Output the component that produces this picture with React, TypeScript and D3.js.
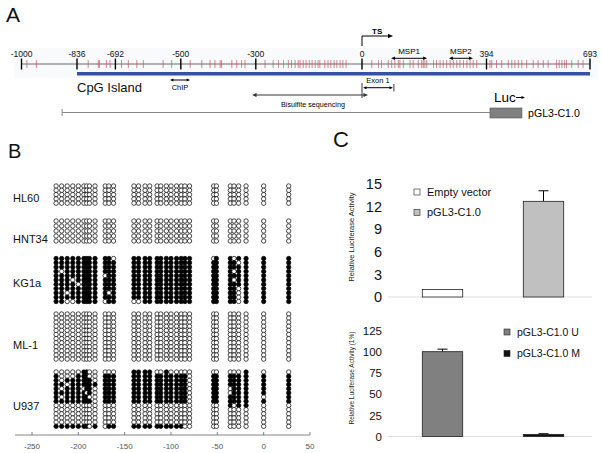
import React from 'react';
import * as d3 from 'd3';

const W = 602;
const H = 453;
const FONT = 'Arial, "Liberation Sans", Helvetica, sans-serif';

// ---------- Panel A: promoter map ----------
const rulerTicks = [-1000, -836, -692, -500, -300, 0, 394, 693];
const rulerLabels = ['-1000', '-836', '-692', '-500', '-300', '0', '394', '693'];
// CpG dinucleotides along the region (bp, estimated from the map)
const cpgSitesA = [
  -984, -956, -794, -756, -752, -725, -712, -674, -654, -629, -610, -552, -527,
  -475, -444, -422, -409, -395, -391, -364, -351, -338, -329,
  -274, -251, -236, -222, -208, -199, -189, -180,
  -175, -166, -158, -149, -141, -132, -124, -119,
  -105, -96, -88, -79, -71, -62, -54, -45,
  31, 52, 62, 83, 94, 104, 115, 120, 131, 152, 162, 178, 189, 194, 199, 205,
  226, 236, 247, 257, 268, 279, 289, 300, 310, 321, 332, 342, 352, 363,
  404, 409, 423, 438, 457, 467, 476, 486, 496, 510, 529, 543, 558, 572,
  596, 604, 612, 620, 625, 640, 659, 673,
];
const cpgIsland = [-836, 693];
const chipRegion = [-532, -475];
const bisulfiteRegion = [-310, 19];
const exon1Region = [0, 101];
const msp1Region = [92, 206];
const msp2Region = [275, 351];
const constructRegion = [-880, 404];

// ---------- Panel B: bisulfite sequencing ----------
const cpgSitesB = [
  -224, -218, -212, -206, -200, -194, -191, -188, -182, -171, -167, -162,
  -140, -135, -128, -123, -115, -111, -105, -100, -94, -89, -85, -80,
  -54, -51, -36, -32, -27, -19, 0, 27,
];
const cellLines = ['HL60', 'HNT34', 'KG1a', 'ML-1', 'U937'];
const zeros = '0'.repeat(32);
const hl60 = [zeros, zeros, zeros, zeros, zeros];
const hnt34 = [zeros, zeros, zeros, zeros, zeros];
const kg1a = [
  '111111111110' + '111111111111' + '01101111',
  '111111111111' + '111111111111' + '11110111',
  '111111111111' + '111111111111' + '11111111',
  '101111111111' + '111111111111' + '11101111',
  '111111111011' + '111111111111' + '11111111',
  '111011111111' + '111111111111' + '11101111',
  '111101111111' + '111111111111' + '11111111',
  '111111111111' + '111111111111' + '11110111',
  '110111111101' + '111111111111' + '11110111',
  '111111111111' + '111111111111' + '11110111',
  '110011111011' + '001111111111' + '11110111',
];
const ml1 = Array(12).fill(zeros);
const u937 = [
  '000001100000' + '111100100000' + '00000100',
  '100011100111' + '111111111110' + '11111111',
  '101111110111' + '111111111110' + '11111111',
  '110111111111' + '111111111110' + '11111111',
  '101110110111' + '111111111110' + '11011111',
  '111111010111' + '111111111110' + '11011111',
  '101111100111' + '111111111110' + '11111101',
  '111111110111' + '111111111110' + '11111111',
  '000000000000' + '000000000000' + '00101100',
  zeros, zeros, zeros, zeros,
  '111111101011' + '111111111100' + '00000000',
];
const methylation = [hl60, hnt34, kg1a, ml1, u937];
const bTicks = [-250, -200, -150, -100, -50, 0, 50];

// ---------- Panel C: luciferase ----------
const luc1Cats = ['Empty vector', 'pGL3-C1.0'];
const luc1Vals = [1.0, 12.7];
const luc1Err = [0, 1.4];
const luc1Ticks = [0, 3, 6, 9, 12, 15];
const luc2Cats = ['pGL3-C1.0 U', 'pGL3-C1.0 M'];
const luc2Vals = [100.5, 2.5];
const luc2Err = [3, 0.8];
const luc2Ticks = [0, 25, 50, 75, 100, 125];

// layout
const rulerPx = [21.5, 77, 115.4, 180.8, 255.8, 362, 486.5, 590];
const groupLayout = [
  { y0: 186, dy: 4.3, label: 202 },
  { y0: 221, dy: 5, label: 243 },
  { y0: 258.5, dy: 4.3, label: 287 },
  { y0: 314, dy: 4.1, label: 349 },
  { y0: 372, dy: 4.18, label: 410 },
];

const head = (x: number, y: number, dir: number, s = 4) =>
  `M${x},${y}L${x - dir * s},${y - s * 0.45}L${x - dir * s},${y + s * 0.45}Z`;

const DoubleArrow = ({ x1, x2, y, color = '#000', s = 4 }: any) => (
  <g>
    <line x1={x1 + 2} x2={x2 - 2} y1={y} y2={y} stroke={color} strokeWidth={1} />
    <path d={head(x1, y, -1, s)} fill={color} />
    <path d={head(x2, y, 1, s)} fill={color} />
  </g>
);

const PanelA = () => {
  const sx = d3.scaleLinear().domain(rulerTicks).range(rulerPx);
  const lineY = 64;
  return (
    <g>
      <text x={6} y={22} fontSize={21} fill="#111">A</text>
      <rect x={14} y={48} width={584} height={30} fill="#eef2f7" opacity={0.4} />
      <line x1={sx(-1000)} x2={sx(693)} y1={lineY} y2={lineY} stroke="#444" strokeWidth={0.8} />
      {cpgSitesA.map((c, i) => (
        <line key={i} x1={sx(c)} x2={sx(c)} y1={lineY - 4} y2={lineY + 4}
          stroke="#c4505c" strokeWidth={0.8} opacity={0.85} />
      ))}
      {rulerTicks.map((t, i) => (
        <g key={t}>
          <line x1={sx(t)} x2={sx(t)} y1={lineY - 5.5} y2={lineY + 5.5} stroke="#000" strokeWidth={1.4} />
          <text x={sx(t)} y={56.5} fontSize={8.5} textAnchor="middle" fill="#111">{rulerLabels[i]}</text>
        </g>
      ))}
      <rect x={sx(cpgIsland[0])} y={72} width={sx(cpgIsland[1]) - sx(cpgIsland[0])} height={3.5} fill="#3550a5" />
      <text x={sx(cpgIsland[0])} y={92} fontSize={13} fill="#111">CpG Island</text>

      <DoubleArrow x1={sx(chipRegion[0])} x2={sx(chipRegion[1])} y={80} s={3.5} />
      <text x={(sx(chipRegion[0]) + sx(chipRegion[1])) / 2} y={90} fontSize={7.5} textAnchor="middle">ChIP</text>

      {/* TS */}
      <path d={`M${sx(0)},46V36H${sx(0) + 27}`} fill="none" stroke="#000" strokeWidth={1} />
      <path d={head(sx(0) + 31, 36, 1, 5)} fill="#000" />
      <text x={sx(0) + 10} y={33.5} fontSize={8} fontWeight="bold">TS</text>

      <DoubleArrow x1={sx(msp1Region[0])} x2={sx(msp1Region[1])} y={58.3} s={4} />
      <text x={(sx(msp1Region[0]) + sx(msp1Region[1])) / 2} y={54.3} fontSize={8} textAnchor="middle">MSP1</text>
      <DoubleArrow x1={sx(msp2Region[0])} x2={sx(msp2Region[1])} y={58.3} s={4} />
      <text x={(sx(msp2Region[0]) + sx(msp2Region[1])) / 2} y={54.3} fontSize={8} textAnchor="middle">MSP2</text>

      {/* Exon 1 */}
      <line x1={sx(exon1Region[0])} x2={sx(exon1Region[0])} y1={83} y2={98} stroke="#000" strokeWidth={0.8} />
      <line x1={sx(exon1Region[1])} x2={sx(exon1Region[1])} y1={84} y2={91.5} stroke="#000" strokeWidth={0.8} />
      <DoubleArrow x1={sx(exon1Region[0]) + 1} x2={sx(exon1Region[1]) - 1} y={87.7} s={3.5} />
      <text x={(sx(exon1Region[0]) + sx(exon1Region[1])) / 2} y={83} fontSize={7.5} textAnchor="middle">Exon 1</text>

      {/* Bisulfite */}
      <DoubleArrow x1={sx(bisulfiteRegion[0])} x2={sx(bisulfiteRegion[1])} y={95} color="#333" s={4.5} />
      <text x={313} y={107} fontSize={7.2} textAnchor="middle">Bisulfite sequencing</text>

      {/* Construct */}
      <line x1={sx(constructRegion[0])} x2={sx(constructRegion[1])} y1={112.5} y2={112.5} stroke="#888" strokeWidth={1} />
      <line x1={sx(constructRegion[0])} x2={sx(constructRegion[0])} y1={109} y2={116} stroke="#888" strokeWidth={1} />
      <rect x={sx(constructRegion[1])} y={108} width={32} height={10} fill="#808080" stroke="#555" strokeWidth={0.6} />
      <text x={494} y={102} fontSize={13.5}>Luc</text>
      <line x1={516} x2={522} y1={97.5} y2={97.5} stroke="#000" strokeWidth={1} />
      <path d={head(525, 97.5, 1, 3.5)} fill="#000" />
      <text x={528} y={116.5} fontSize={10.6}>pGL3-C1.0</text>
    </g>
  );
};

const PanelB = () => {
  const sx = d3.scaleLinear().domain([-250, 50]).range([32, 310]);
  const axisY = 435;
  return (
    <g>
      <text x={8} y={158} fontSize={20} fill="#111">B</text>
      {cellLines.map((name, gi) => {
        const L = groupLayout[gi];
        return (
          <g key={name}>
            <text x={13} y={L.label} fontSize={11} fill="#111">{name}</text>
            {methylation[gi].map((row, ri) =>
              cpgSitesB.map((c, ci) => (
                <circle key={`${ri}-${ci}`} cx={sx(c)} cy={L.y0 + ri * L.dy} r={2.2}
                  fill={row[ci] === '1' ? '#000' : '#fff'} stroke="#000" strokeWidth={0.7} />
              ))
            )}
          </g>
        );
      })}
      <line x1={15} x2={sx(50)} y1={axisY} y2={axisY} stroke="#666" strokeWidth={0.8} />
      {bTicks.map((t) => (
        <g key={t}>
          <line x1={sx(t)} x2={sx(t)} y1={axisY - 3} y2={axisY} stroke="#666" strokeWidth={0.8} />
          <text x={sx(t)} y={449} fontSize={8} textAnchor="middle" fill="#555">{t}</text>
        </g>
      ))}
    </g>
  );
};

const BarChart = ({ cats, vals, errs, ticks, yRange, fills, tickFont, yLabel, yLabelY, yLabelFont, legendY, legendX, legendFont }: any) => {
  const x = d3.scaleBand().domain(cats).range([392, 594]).paddingInner(0.6).paddingOuter(0.3);
  const y = d3.scaleLinear().domain([ticks[0], ticks[ticks.length - 1]]).range(yRange);
  return (
    <g>
      <line x1={388} x2={592} y1={y(0)} y2={y(0)} stroke="#ddd" strokeWidth={1} />
      {ticks.map((t: number) => (
        <text key={t} x={382} y={y(t) + tickFont * 0.36} fontSize={tickFont} textAnchor="end" fill="#111">{t}</text>
      ))}
      <text transform={`translate(354,${yLabelY}) rotate(-90)`} fontSize={yLabelFont} textAnchor="middle" fill="#222">{yLabel}</text>
      {cats.map((c: string, i: number) => {
        const bx = x(c) as number;
        const cx = bx + x.bandwidth() / 2;
        return (
          <g key={c}>
            {errs[i] > 0 && (
              <g stroke="#000" strokeWidth={1}>
                <line x1={cx} x2={cx} y1={y(vals[i])} y2={y(vals[i] + errs[i])} />
                <line x1={cx - 5} x2={cx + 5} y1={y(vals[i] + errs[i])} y2={y(vals[i] + errs[i])} />
              </g>
            )}
            <rect x={bx} y={y(vals[i])} width={x.bandwidth()} height={y(0) - y(vals[i])}
              fill={fills[i]} stroke="#222" strokeWidth={0.8} />
            <rect x={legendX} y={legendY[i] - 3} width={6} height={6} fill={fills[i]} stroke="#222" strokeWidth={0.6} />
            <text x={legendX + 13} y={legendY[i] + legendFont * 0.36} fontSize={legendFont} fill="#111">{c}</text>
          </g>
        );
      })}
    </g>
  );
};

const PanelC = () => (
  <g>
    <text x={333} y={147} fontSize={22} fill="#111">C</text>
    <BarChart cats={luc1Cats} vals={luc1Vals} errs={luc1Err} ticks={luc1Ticks} yRange={[297, 184]}
      fills={['#fff', '#c0c0c0']} tickFont={14.5} yLabel="Relative Luciferase Activity" yLabelY={237}
      yLabelFont={7.5} legendY={[192, 212.5]} legendX={414} legendFont={11} />
    <BarChart cats={luc2Cats} vals={luc2Vals} errs={luc2Err} ticks={luc2Ticks} yRange={[436.5, 331]}
      fills={['#808080', '#111']} tickFont={11.5} yLabel="Relative Luciferase Activity (1%)" yLabelY={378}
      yLabelFont={6.5} legendY={[332, 353.5]} legendX={504} legendFont={10.5} />
  </g>
);

export default function App() {
  return (
    <div style={{ position: 'absolute', left: 0, top: 0, background: '#fff' }}>
      <svg width={W} height={H} fontFamily={FONT} style={{ display: 'block' }}>
        <rect width={W} height={H} fill="#fff" />
        <PanelA />
        <PanelB />
        <PanelC />
      </svg>
    </div>
  );
}
